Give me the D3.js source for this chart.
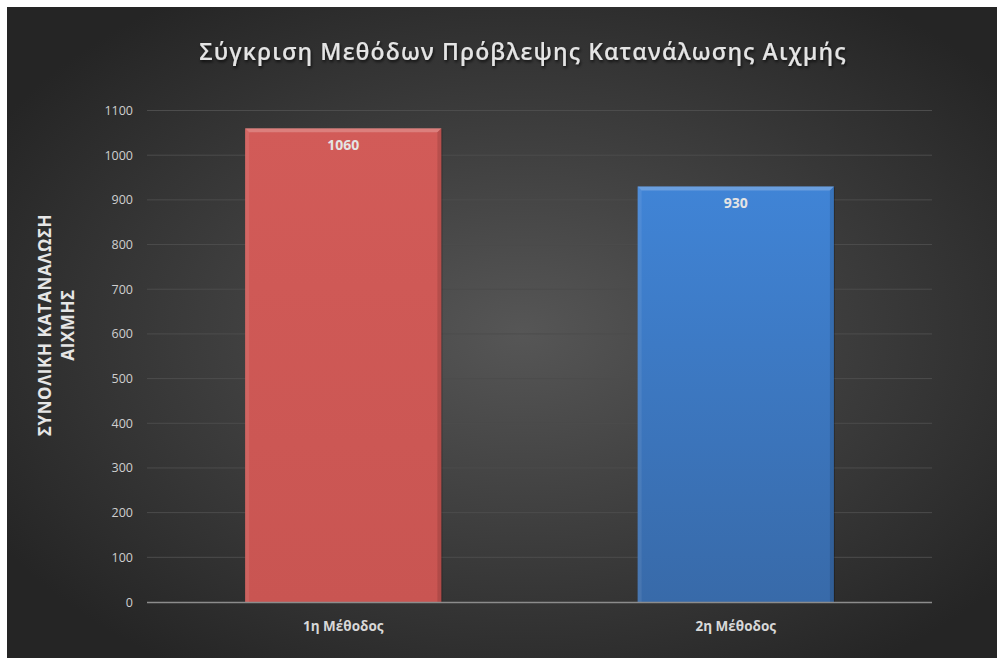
<!DOCTYPE html>
<html>
<head>
<meta charset="utf-8">
<script src="https://cdn.jsdelivr.net/npm/d3@7"></script>
<style>
  html, body { margin: 0; padding: 0; background: #ffffff; }
  svg { display: block; }
</style>
</head>
<body>
<svg id="chart" width="998" height="658"></svg>
<script>
// Chart data
const categories = ["1η Μέθοδος", "2η Μέθοδος"];
const values = [1060, 930];
const yTicks = [0, 100, 200, 300, 400, 500, 600, 700, 800, 900, 1000, 1100];
const titleText = "Σύγκριση Μεθόδων Πρόβλεψης Κατανάλωσης Αιχμής";
const yLabelLines = ["ΣΥΝΟΛΙΚΗ ΚΑΤΑΝΑΛΩΣΗ", "ΑΙΧΜΗΣ"];

const svg = d3.select("#chart");
const fontFamily = "'Open Sans', 'Noto Sans', sans-serif";

const defs = svg.append("defs");

// Dark radial background
const bg = defs.append("radialGradient").attr("id", "bgGrad")
  .attr("cx", "52%").attr("cy", "50%").attr("r", "62%");
bg.append("stop").attr("offset", "0%").attr("stop-color", "#565656");
bg.append("stop").attr("offset", "100%").attr("stop-color", "#252525");

// Bar gradients
const barColors = [
  { id: "barRed", top: "#d25b58", bottom: "#c95552" },
  { id: "barBlue", top: "#4084d6", bottom: "#386aa9" }
];
barColors.forEach(c => {
  const g = defs.append("linearGradient").attr("id", c.id)
    .attr("x1", 0).attr("y1", 0).attr("x2", 0).attr("y2", 1);
  g.append("stop").attr("offset", "0%").attr("stop-color", c.top);
  g.append("stop").attr("offset", "100%").attr("stop-color", c.bottom);
});

// Soft text shadow for the title
const sh = defs.append("filter").attr("id", "tshadow")
  .attr("x", "-5%").attr("y", "-30%").attr("width", "110%").attr("height", "160%");
sh.append("feDropShadow").attr("dx", 1).attr("dy", 2).attr("stdDeviation", 1.5)
  .attr("flood-color", "#000").attr("flood-opacity", 0.7);

svg.append("rect")
  .attr("x", 7).attr("y", 7).attr("width", 990).attr("height", 651)
  .attr("fill", "url(#bgGrad)");

// Plot area
const plot = { left: 147, right: 932, top: 110.5, bottom: 602 };

const x = d3.scaleBand()
  .domain(categories)
  .range([plot.left, plot.right])
  .paddingInner(0.5)
  .paddingOuter(0.25);

const y = d3.scaleLinear()
  .domain([0, 1100])
  .range([plot.bottom, plot.top]);

// Gridlines
svg.append("g")
  .selectAll("line")
  .data(yTicks.filter(t => t > 0))
  .join("line")
  .attr("x1", plot.left).attr("x2", plot.right)
  .attr("y1", d => y(d)).attr("y2", d => y(d))
  .attr("stroke", "#4c4c4c").attr("stroke-width", 1);

// Y axis tick labels
const yAxis = d3.axisLeft(y).tickValues(yTicks).tickFormat(d3.format("d"))
  .tickSize(0).tickPadding(14);
const yG = svg.append("g").attr("transform", `translate(${plot.left},0)`).call(yAxis);
yG.select(".domain").remove();
yG.selectAll("text")
  .attr("fill", "#cfcfcf")
  .attr("font-family", fontFamily)
  .attr("font-size", 12.5);

// Bars
const bars = svg.append("g");
categories.forEach((cat, i) => {
  const bx = x(cat), bw = x.bandwidth();
  const by = y(values[i]), bh = y(0) - y(values[i]);
  bars.append("rect")
    .attr("x", bx + 1).attr("y", by + 1).attr("width", bw).attr("height", bh)
    .attr("fill", "#000").attr("opacity", 0.25);
  bars.append("rect")
    .attr("x", bx).attr("y", by).attr("width", bw).attr("height", bh)
    .attr("fill", `url(#${barColors[i].id})`);
  // bevelled top edge
  bars.append("path")
    .attr("d", `M${bx},${by} L${bx + bw},${by} L${bx + bw - 4},${by + 4} L${bx + 4},${by + 4} Z`)
    .attr("fill", "#ffffff").attr("opacity", 0.22);
  bars.append("path")
    .attr("d", `M${bx},${by} L${bx + 4},${by + 4} L${bx + 4},${by + bh} L${bx},${by + bh} Z`)
    .attr("fill", "#ffffff").attr("opacity", 0.08);
  bars.append("path")
    .attr("d", `M${bx + bw},${by} L${bx + bw - 4},${by + 4} L${bx + bw - 4},${by + bh} L${bx + bw},${by + bh} Z`)
    .attr("fill", "#000000").attr("opacity", 0.12);
});

// Value labels
svg.append("g")
  .selectAll("text")
  .data(values)
  .join("text")
  .attr("x", (d, i) => x(categories[i]) + x.bandwidth() / 2)
  .attr("y", d => y(d) + 22)
  .attr("text-anchor", "middle")
  .attr("fill", "#e4e4e4")
  .attr("font-family", fontFamily)
  .attr("font-weight", "bold")
  .attr("font-size", 14)
  .text(d => d);

// X axis baseline
svg.append("line")
  .attr("x1", plot.left).attr("x2", plot.right)
  .attr("y1", y(0) + 0.5).attr("y2", y(0) + 0.5)
  .attr("stroke", "#8c8c8c").attr("stroke-width", 1.5);

// Category labels
const xAxis = d3.axisBottom(x).tickSize(0).tickPadding(19);
const xG = svg.append("g").attr("transform", `translate(0,${plot.bottom})`).call(xAxis);
xG.select(".domain").remove();
xG.selectAll("text")
  .attr("fill", "#d8d8d8")
  .attr("font-family", fontFamily)
  .attr("font-weight", "bold")
  .attr("font-size", 13.5);

// Title
svg.append("text")
  .attr("x", 523).attr("y", 60)
  .attr("text-anchor", "middle")
  .attr("fill", "#e4e4e4")
  .attr("font-family", fontFamily)
  .attr("font-weight", 600)
  .attr("font-size", 23)
  .attr("letter-spacing", 1.1)
  .attr("filter", "url(#tshadow)")
  .text(titleText);

// Y axis title (two lines, rotated)
const yl = svg.append("text")
  .attr("transform", "translate(51,325) rotate(-90)")
  .attr("text-anchor", "middle")
  .attr("fill", "#e6e6e6")
  .attr("font-family", fontFamily)
  .attr("font-weight", "bold")
  .attr("font-size", 17)
  .attr("letter-spacing", 0.6);
yLabelLines.forEach((line, i) => {
  yl.append("tspan").attr("x", 0).attr("dy", i === 0 ? 0 : 23).text(line);
});
</script>
</body>
</html>
